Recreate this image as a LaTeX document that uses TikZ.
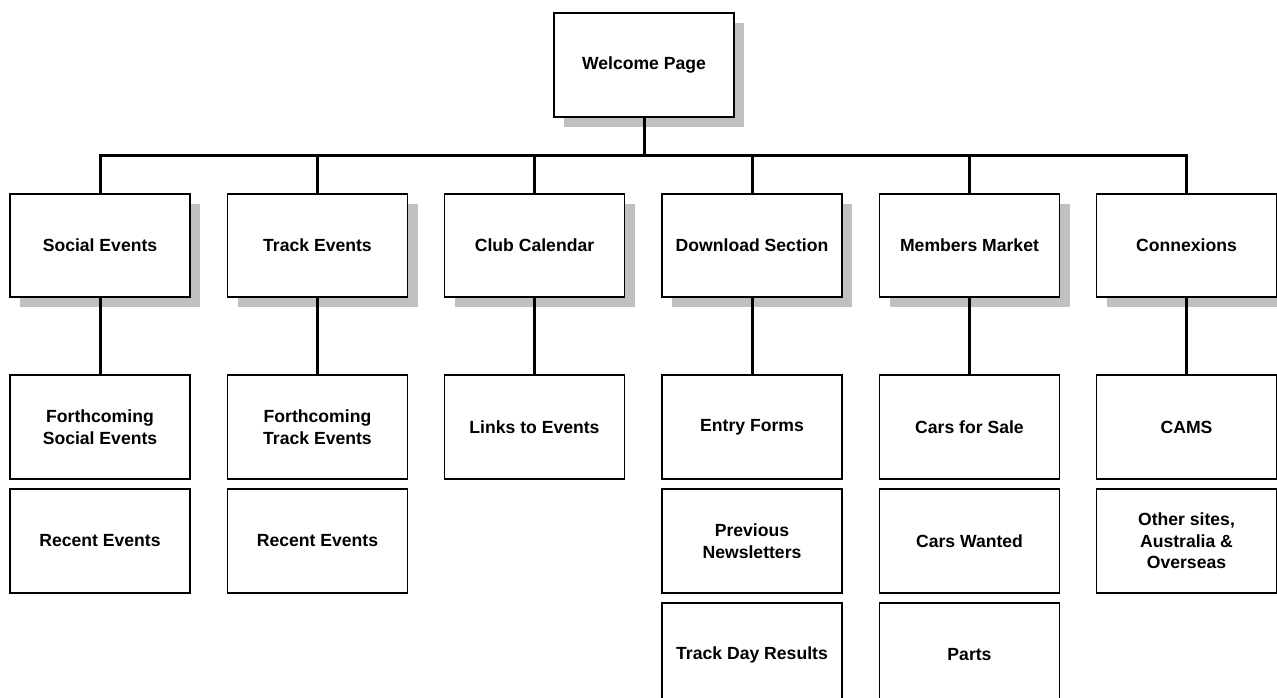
\documentclass[tikz,border=0pt]{standalone}
\usepackage{fontspec}
\setmainfont{Liberation Sans}
\usetikzlibrary{shadows}
\definecolor{shgray}{RGB}{192,192,192}
\begin{document}
\begin{tikzpicture}[x=1pt,y=1pt,
  box/.style={draw=black,line width=1.8pt,fill=white,rectangle,minimum width=180pt,minimum height=104pt,
    align=center,inner sep=0pt,font=\fontsize{17.6}{21.5}\selectfont\bfseries},
  shbox/.style={box,drop shadow={shadow xshift=10pt,shadow yshift=-10pt,fill=shgray,opacity=1}},
  conn/.style={draw=black,line width=3pt}]
\useasboundingbox (0,0) rectangle (1277,-697);
% top
\node[shbox] (W) at (644,-64.7) {Welcome Page};
% level 1
\node[shbox,minimum height=103pt] (S) at (100,-245.5) {Social Events};
\node[shbox,minimum height=103pt] (T) at (317.5,-245.5) {Track Events};
\node[shbox,minimum height=103pt] (C) at (534.5,-245.5) {Club Calendar};
\node[shbox,minimum height=103pt] (D) at (752,-245.5) {Download Section};
\node[shbox,minimum height=103pt] (M) at (969.5,-245.5) {Members Market};
\node[shbox,minimum height=103pt] (X) at (1186.5,-245.5) {Connexions};
% level 2
\node[box] (S1) at (100,-427) {Forthcoming\\Social Events};
\node[box] (S2) at (100,-541) {Recent Events};
\node[box] (T1) at (317.5,-427) {Forthcoming\\Track Events};
\node[box] (T2) at (317.5,-541) {Recent Events};
\node[box] (C1) at (534.5,-427) {Links to Events};
\node[box] (D1) at (752,-427) {Entry Forms};
\node[box] (D2) at (752,-541) {Previous\\Newsletters};
\node[box] (D3) at (752,-655) {Track Day Results};
\node[box] (M1) at (969.5,-427) {Cars for Sale};
\node[box] (M2) at (969.5,-541) {Cars Wanted};
\node[box] (M3) at (969.5,-655) {Parts};
\node[box] (X1) at (1186.5,-427) {CAMS};
\node[box] (X2) at (1186.5,-541) {Other sites,\\Australia \&\\Overseas};
% connectors
\coordinate (bus) at (644,-155);
\coordinate (busL) at (100,-155);
\coordinate (busR) at (1186.5,-155);
\draw[conn] (W.south) -- (bus);
\draw[conn,line cap=rect] (busL) -- (busR);
\foreach \n in {S,T,C,D,M,X} {
  \draw[conn] (\n.north |- bus) -- (\n.north);
}
\draw[conn] (S.south) -- (S1.north);
\draw[conn] (T.south) -- (T1.north);
\draw[conn] (C.south) -- (C1.north);
\draw[conn] (D.south) -- (D1.north);
\draw[conn] (M.south) -- (M1.north);
\draw[conn] (X.south) -- (X1.north);
\end{tikzpicture}
\end{document}
